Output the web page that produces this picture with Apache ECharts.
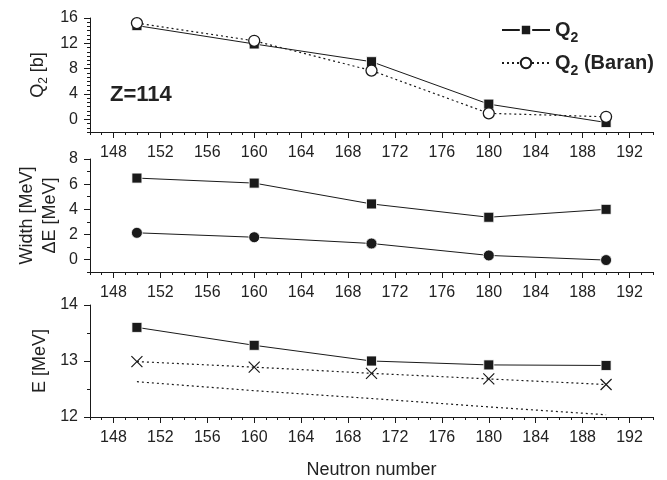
<!DOCTYPE html>
<html><head><meta charset="utf-8">
<script src="https://cdn.jsdelivr.net/npm/echarts@6/dist/echarts.min.js"></script>
<style>html,body{margin:0;padding:0;background:#fff}#c{width:667px;height:480px}</style>
</head><body><div id="c"></div>
<script>
// ---- data ----
const neutrons = [150, 160, 170, 180, 190];
const q2 = [14.8, 11.9, 9.1, 2.4, -0.5];
const q2Baran = [15.2, 12.4, 7.7, 0.95, 0.4];
const widthMeV = [6.48, 6.08, 4.42, 3.36, 3.99];
const deltaE = [2.12, 1.77, 1.27, 0.32, -0.05];
const energy = [13.6, 13.28, 13.0, 12.93, 12.92];
const energyCross = [12.99, 12.89, 12.78, 12.68, 12.58];
const energyDotted = [12.63, 12.47, 12.33, 12.18, 12.04];
const xTicks = [148, 152, 156, 160, 164, 168, 172, 176, 180, 184, 188, 192];
const q2Ticks = [0, 4, 8, 12, 16];
const widthTicks = [0, 2, 4, 6, 8];
const eTicks = [12, 13, 14];

const pair = (ys) => neutrons.map((x, i) => [x, ys[i]]);
const INK = '#1a1a1a';
const FONT = 'Liberation Sans';

const grids = [
  {left: 90, width: 563, top: 18, height: 114},
  {left: 90, width: 563, top: 159, height: 113},
  {left: 90, width: 563, top: 305, height: 113}
];

const xMain = (i, extra) => Object.assign({
  type: 'value', gridIndex: i, min: 146, max: 194, position: 'bottom',
  axisLine: {show: true, onZero: false, lineStyle: {color: INK, width: 1}},
  axisTick: {show: true, customValues: xTicks, length: 6, lineStyle: {color: INK}},
  axisLabel: {customValues: xTicks, color: '#222', fontSize: 16, fontFamily: FONT, margin: 13},
  splitLine: {show: false}
}, extra || {});
const xMinor = (i) => ({
  type: 'value', gridIndex: i, min: 146, max: 194, interval: 1, position: 'bottom',
  axisLine: {show: false, onZero: false},
  axisTick: {show: true, length: 3, lineStyle: {color: INK}},
  axisLabel: {show: false}, splitLine: {show: false}
});
const yMain = (i, min, max, ticks, extra) => Object.assign({
  type: 'value', gridIndex: i, min: min, max: max, position: 'left',
  axisLine: {show: true, onZero: false, lineStyle: {color: INK, width: 1}},
  axisTick: {show: true, customValues: ticks, length: 6, lineStyle: {color: INK}},
  axisLabel: {customValues: ticks, color: '#222', fontSize: 16, fontFamily: FONT, margin: 12},
  splitLine: {show: false},
  nameLocation: 'middle', nameRotate: 90,
  nameTextStyle: {fontSize: 18, fontFamily: FONT, color: '#222'}
}, extra || {});
const yMinor = (i, min, max, interval) => ({
  type: 'value', gridIndex: i, min: min, max: max, interval: interval, position: 'left',
  axisLine: {show: false, onZero: false},
  axisTick: {show: true, length: 3, lineStyle: {color: INK}},
  axisLabel: {show: false}, splitLine: {show: false}
});

const chart = echarts.init(document.getElementById('c'), null, {renderer: 'canvas'});
chart.setOption({
  animation: false,
  backgroundColor: '#fff',
  grid: grids,
  xAxis: [
    xMain(0), xMain(1),
    xMain(2, {name: 'Neutron number', nameLocation: 'middle', nameGap: 44,
      nameTextStyle: {fontSize: 18, fontFamily: FONT, color: '#222'}}),
    xMinor(0), xMinor(1), xMinor(2)
  ],
  yAxis: [
    yMain(0, -2, 16, q2Ticks, {
      name: '{n|Q}{s|2}{n| [b]}', nameGap: 40,
      nameTextStyle: {fontSize: 18, fontFamily: FONT, color: '#222',
        rich: {n: {fontSize: 18, fontFamily: FONT, color: '#222', lineHeight: 22},
               s: {fontSize: 12, fontFamily: FONT, color: '#222', lineHeight: 10, verticalAlign: 'bottom'}}}
    }),
    yMain(1, -1, 8, widthTicks, {name: 'Width [MeV]\nΔE [MeV]', nameGap: 28, nameMoveOverlap: false,
      nameTextStyle: {fontSize: 18, fontFamily: FONT, color: '#222', lineHeight: 23}}),
    yMain(2, 12, 14, eTicks, {name: 'E [MeV]', nameGap: 40}),
    yMinor(0, -2, 16, 2 / 3), yMinor(1, -1, 8, 1), yMinor(2, 12, 14, 0.5)
  ],
  legend: {
    orient: 'vertical', left: 496, top: 15, itemGap: 8,
    itemWidth: 48, itemHeight: 13,
    data: ['Q2', 'Q2 (Baran)'],
    formatter: (name) => name === 'Q2' ? '{b|Q}{s|2}' : '{b|Q}{s|2}{b| (Baran)}',
    textStyle: {
      rich: {
        b: {fontSize: 20, fontWeight: 'bold', fontFamily: FONT, color: '#222', lineHeight: 30},
        s: {fontSize: 14, fontWeight: 'bold', fontFamily: FONT, color: '#222', lineHeight: 10, verticalAlign: 'bottom'}
      }
    }
  },
  graphic: [{
    type: 'text', left: 110, top: 84,
    style: {text: 'Z=114', font: 'bold 22px "Liberation Sans"', fill: '#222'}
  }],
  series: [
    {name: 'Q2', type: 'line', xAxisIndex: 0, yAxisIndex: 0, data: pair(q2),
      symbol: 'rect', symbolSize: 10, z: 3,
      itemStyle: {color: INK, borderColor: '#fff', borderWidth: 0.8},
      lineStyle: {color: INK, width: 1}},
    {name: 'Q2 (Baran)', type: 'line', xAxisIndex: 0, yAxisIndex: 0, data: pair(q2Baran),
      symbol: 'circle', symbolSize: 11, z: 4,
      itemStyle: {color: '#fff', borderColor: INK, borderWidth: 1.3},
      lineStyle: {color: INK, width: 1.2, type: [2, 3]}},
    {name: 'Width', type: 'line', xAxisIndex: 1, yAxisIndex: 1, data: pair(widthMeV),
      symbol: 'rect', symbolSize: 10,
      itemStyle: {color: INK, borderColor: '#fff', borderWidth: 0.8},
      lineStyle: {color: INK, width: 1}},
    {name: 'ΔE', type: 'line', xAxisIndex: 1, yAxisIndex: 1, data: pair(deltaE),
      symbol: 'circle', symbolSize: 11,
      itemStyle: {color: INK, borderColor: '#fff', borderWidth: 0.8},
      lineStyle: {color: INK, width: 1}},
    {name: 'E', type: 'line', xAxisIndex: 2, yAxisIndex: 2, data: pair(energy),
      symbol: 'rect', symbolSize: 10,
      itemStyle: {color: INK, borderColor: '#fff', borderWidth: 0.8},
      lineStyle: {color: INK, width: 1}},
    {name: 'E cross', type: 'line', xAxisIndex: 2, yAxisIndex: 2, data: pair(energyCross),
      symbol: 'path://M0,0L10,10M10,0L0,10', symbolSize: 11,
      itemStyle: {color: 'rgba(0,0,0,0)', borderColor: INK, borderWidth: 1.2},
      lineStyle: {color: INK, width: 1.2, type: [2, 3]}},
    {name: 'E dotted', type: 'line', xAxisIndex: 2, yAxisIndex: 2, data: pair(energyDotted),
      symbol: 'none',
      lineStyle: {color: INK, width: 1.2, type: [2, 3]}}
  ]
});
</script>
</body></html>
